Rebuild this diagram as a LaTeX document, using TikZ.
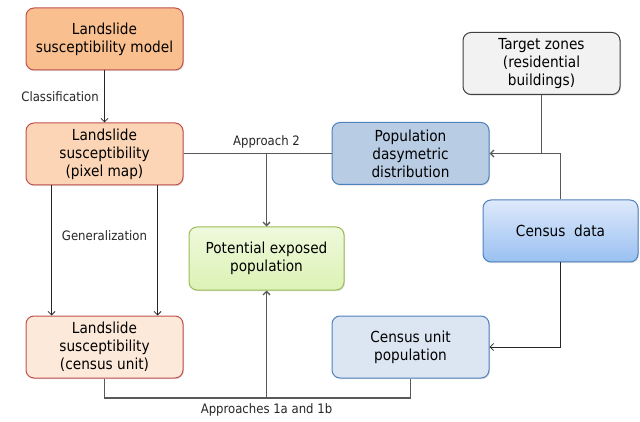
\documentclass[tikz,border=0pt]{standalone}
\usepackage{fontspec}
\setmainfont{DejaVu Sans Condensed}
\usetikzlibrary{arrows.meta}
\usetikzlibrary{shadows}

\definecolor{redline}{HTML}{C0504D}
\definecolor{blueline}{HTML}{4F81BD}
\definecolor{greenline}{HTML}{9BBB59}
\definecolor{linkgray}{HTML}{595959}
\definecolor{modelfill}{HTML}{F9BF8F}
\definecolor{pixelfill}{HTML}{FBD5B5}
\definecolor{lsfill}{HTML}{FDE9D9}
\definecolor{greentop}{HTML}{EEF9DC}
\definecolor{greenbot}{HTML}{DCF2B4}
\definecolor{dasyfill}{HTML}{B8CCE4}
\definecolor{targetfill}{HTML}{F2F2F2}
\definecolor{bluetop}{HTML}{DEE9FB}
\definecolor{bluebot}{HTML}{99C0F1}
\definecolor{cupfill}{HTML}{DCE6F2}

\tikzset{
  box/.style={draw, line width=1pt, rounded corners=8pt, align=center,
    minimum width=157pt, minimum height=62pt, inner sep=2pt,
    font=\fontsize{15.2}{18}\selectfont,
    drop shadow={opacity=0.25, shadow xshift=1pt, shadow yshift=-1.2pt}},
  link/.style={draw=linkgray, line width=1.3pt},
  thinlink/.style={draw=black!85, line width=0.8pt},
  tip/.style={-{Straight Barb[length=3.5pt,width=7pt]}},
  lbl/.style={font=\fontsize{13}{15}\selectfont, text=black!85}
}

\begin{document}
\begin{tikzpicture}[x=1pt,y=-1pt]
\useasboundingbox (0,0) rectangle (640,422);

% boxes
\node[box, draw=redline, fill=modelfill] (model) at (104.5,39) {Landslide\\susceptibility model};
\node[box, draw=redline, fill=pixelfill] (pixel) at (104.5,154) {Landslide\\susceptibility\\(pixel map)};
\node[box, draw=redline, fill=lsfill] (lscensus) at (104.5,347) {Landslide\\susceptibility\\(census unit)};
\node[box, draw=greenline, top color=greentop, bottom color=greenbot, minimum width=155pt, minimum height=63pt] (exposed) at (266.5,258.5) {Potential exposed\\population};
\node[box, draw=blueline, fill=dasyfill] (dasy) at (410.5,153.5) {Population\\dasymetric\\distribution};
\node[box, draw=black!75, fill=targetfill] (target) at (541.5,63.5) {Target zones\\(residential\\buildings)};
\node[box, draw=blueline, top color=bluetop, bottom color=bluebot, minimum width=155pt] (census) at (560.5,231) {Census\ \ data};
\node[box, draw=blueline, fill=cupfill] (cupop) at (410.5,347) {Census unit\\population};

% helper points
\coordinate (a2) at (266.5,153.5);
\coordinate (tz) at (541.5,153.5);
\coordinate (cd) at (560.5,153.5);
\coordinate (cu) at (560.5,347);
\coordinate (a1) at (266.5,398);

% connectors
\draw[thinlink, tip] (model) -- node[lbl, left=2pt, pos=0.5] {Classification} (pixel);
\draw[thinlink, tip] ([xshift=-53pt]pixel.south) -- ([xshift=-53pt]lscensus.north);
\draw[thinlink, tip] ([xshift=53pt]pixel.south) -- ([xshift=53pt]lscensus.north);
\node[lbl] (gen) at (104.5,236) {Generalization};

\draw[link] (pixel.east |- a2) -- (dasy.west |- a2);
\draw[link, tip] (a2) -- (exposed.north);
\node[lbl] (ap2) at (266.5,141.5) {Approach 2};

\draw[link] (target.south) -- (tz);
\draw[link, tip] (census.north) -- (cd) -- (dasy.east |- cd);
\draw[thinlink, tip] (census.south) -- (cu) -- (cupop.east |- cu);

\draw[link] (lscensus.south) |- (a1) -| (cupop.south);
\draw[link, tip] (a1) -- (exposed.south);
\node[lbl] (ap1) at (266.5,410) {Approaches 1a and 1b};
\end{tikzpicture}
\end{document}
